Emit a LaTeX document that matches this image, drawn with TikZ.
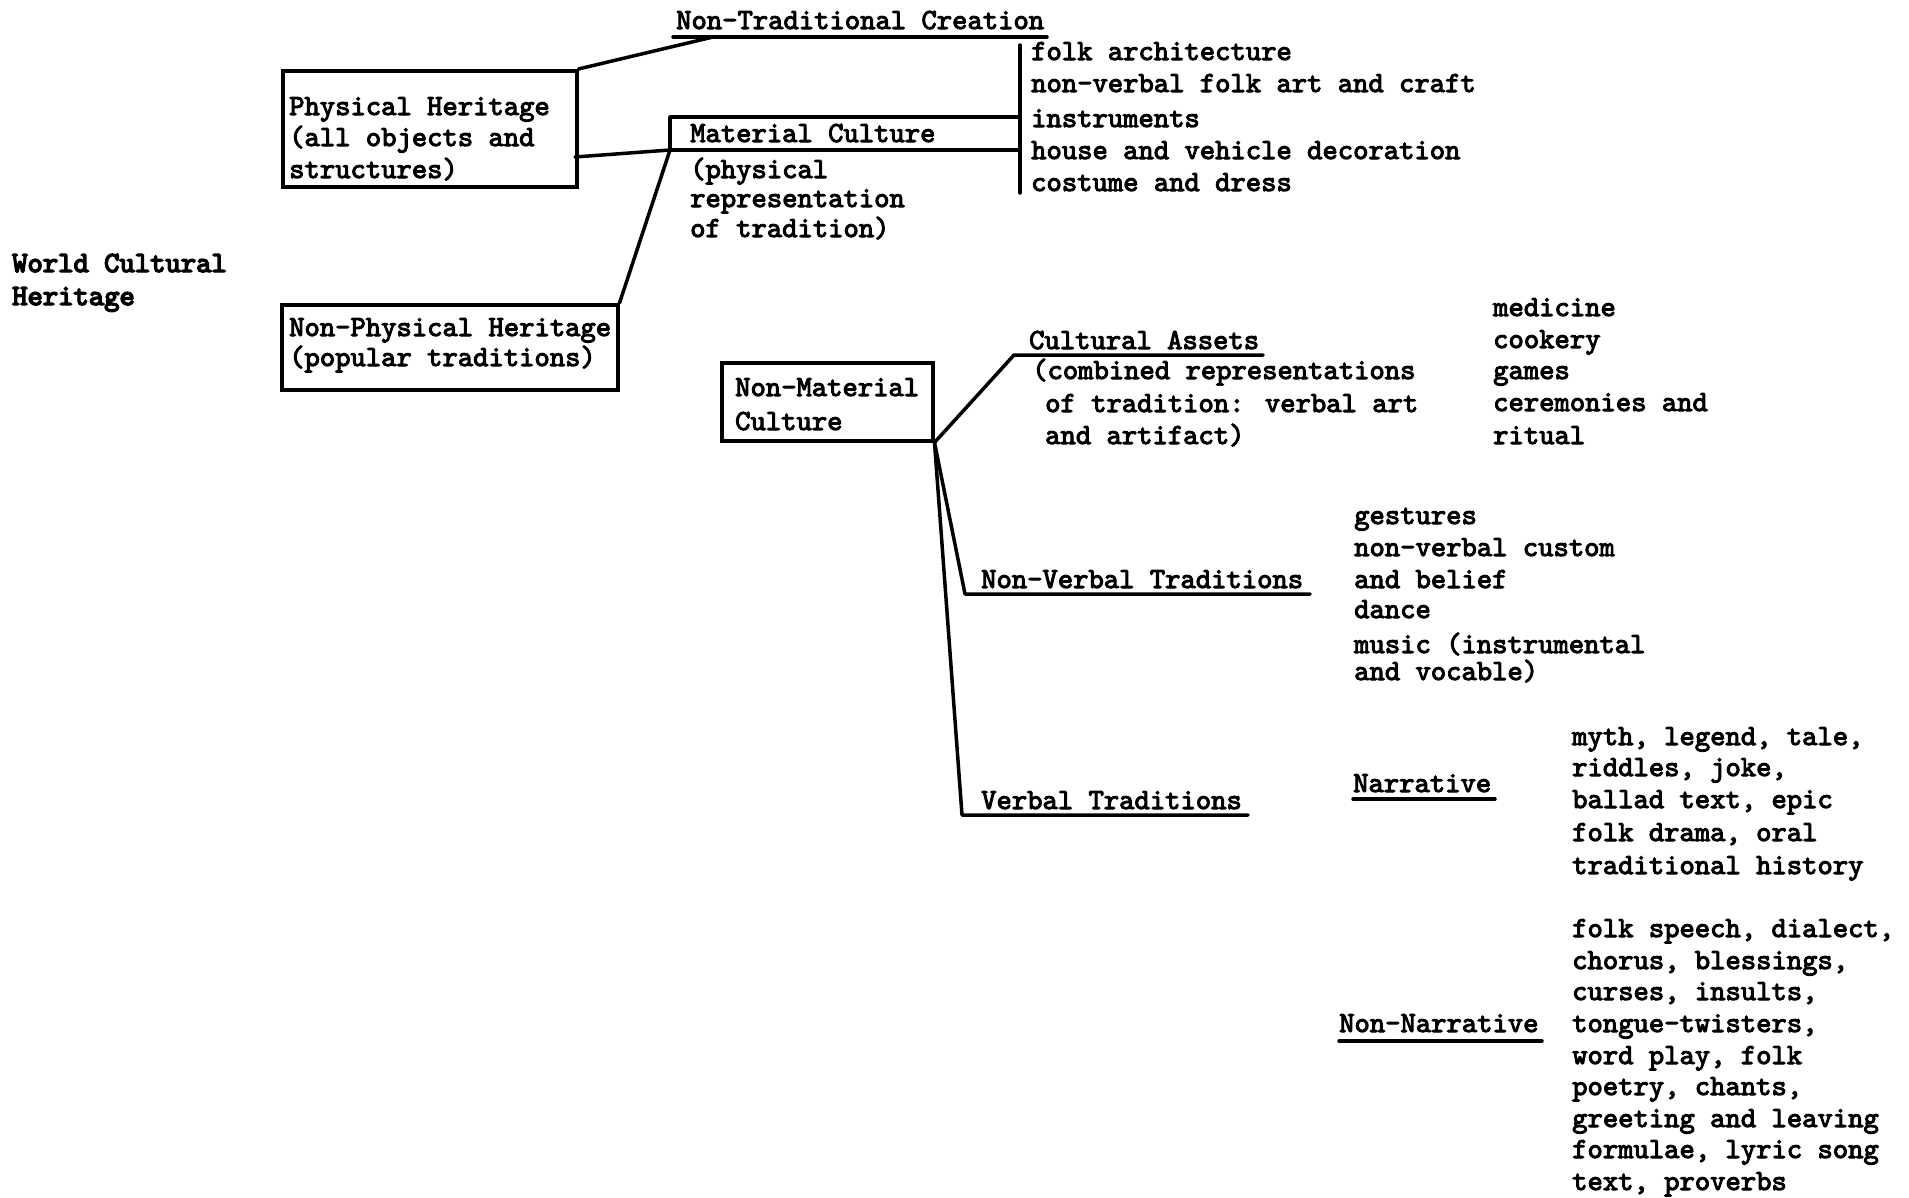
\documentclass[tikz,border=0pt]{standalone}
\usepackage{fontspec}
\newfontfamily\tw{lmmono10-regular.otf}[FakeBold=3.4]
\newfontfamily\twb{lmmono10-regular.otf}[FakeBold=5]
\begin{document}
\begin{tikzpicture}[x=1pt,y=-1pt,
  txt/.style={font=\tw\fontsize{29.2}{34}\selectfont, anchor=base west, inner sep=0pt},
  ttl/.style={txt, font=\twb\fontsize{29.2}{34}\selectfont},
  box/.style={draw, line width=3.5pt, inner sep=0pt, anchor=north west},
  ln/.style={line width=3.5pt, line join=round, line cap=round}]
\fill[white] (0,0) rectangle (1909,1197);
\useasboundingbox (0,0) rectangle (1909,1197);

% boxes
\node[box, minimum width=294pt, minimum height=116pt] (ph) at (281,69) {};
\node[box, minimum width=336pt, minimum height=85pt] (np) at (280,303) {};
\node[box, minimum width=211pt, minimum height=78pt] (nm) at (720,361) {};

% left-hand title
\node[ttl] (wch1) at (12,272) {World Cultural};
\node[ttl] (wch2) at (12,305) {Heritage};

% box texts
\node[txt] (ph1) at (289,115) {Physical Heritage};
\node[txt] (ph2) at (289,146) {(all objects and};
\node[txt] (ph3) at (289,178) {structures)};
\node[txt] (np1) at (289,336) {Non-Physical Heritage};
\node[txt] (np2) at (289,366) {(popular traditions)};
\node[txt] (nm1) at (735,396) {Non-Material};
\node[txt] (nm2) at (735,430) {Culture};

% upper branch
\node[txt] (ntc) at (676,29) {Non-Traditional Creation};
\node[txt] (mc) at (690,142) {Material Culture};
\node[txt] (mc1) at (690,178) {(physical};
\node[txt] (mc2) at (690,207) {representation};
\node[txt] (mc3) at (690,237) {of tradition)};
\foreach \y/\t [count=\i] in {60/folk architecture, 92/non-verbal folk art and craft, 127/instruments, 159/house and vehicle decoration, 191/costume and dress}
  \node[txt] (fa\i) at (1031,\y) {\t};

% cultural assets
\node[txt] (ca) at (1029,349) {Cultural Assets};
\node[txt] (ca1) at (1032,379) {(combined representations};
\node[txt] (ca2) at (1045,412) {of tradition: verbal art};
\node[txt] (ca3) at (1045,444) {and artifact)};
\foreach \y/\t [count=\i] in {316/medicine, 348/cookery, 379/games, 411/ceremonies and, 444/ritual}
  \node[txt] (cl\i) at (1493,\y) {\t};

% non-verbal
\node[txt] (nv) at (981,588) {Non-Verbal Traditions};
\foreach \y/\t [count=\i] in {524/gestures, 556/non-verbal custom, 588/and belief, 618/dance, 653/music (instrumental, 680/and vocable)}
  \node[txt] (nl\i) at (1354,\y) {\t};

% verbal
\node[txt] (vt) at (981,809) {Verbal Traditions};
\node[txt] (na) at (1353,792) {Narrative};
\foreach \y/\t [count=\i] in {745/{myth, legend, tale,}, 776/{riddles, joke,}, 808/{ballad text, epic}, 841/{folk drama, oral}, 874/traditional history}
  \node[txt] (nal\i) at (1572,\y) {\t};
\node[txt] (nn) at (1339,1032) {Non-Narrative};
\foreach \y/\t [count=\i] in {937/{folk speech, dialect,}, 969/{chorus, blessings,}, 1000/{curses, insults,}, 1032/{tongue-twisters,}, 1064/{word play, folk}, 1095/{poetry, chants,}, 1127/greeting and leaving, 1158/{formulae, lyric song}, 1190/{text, proverbs}}
  \node[txt] (nnl\i) at (1572,\y) {\t};

% coordinates
\coordinate (ntL) at (673,37);
\coordinate (ntR) at (1047,37);
\coordinate (ntJ) at (713,37);
\coordinate (phR) at (575,157);
\coordinate (mcTL) at (670,117);
\coordinate (mcBL) at (670,150);
\coordinate (mcTR) at (1020,117);
\coordinate (mcBR) at (1020,150);
\coordinate (barT) at (1020,45);
\coordinate (barB) at (1020,193);
\coordinate (caL) at (1014,355);
\coordinate (caR) at (1263,355);
\coordinate (nvL) at (965,594);
\coordinate (nvR) at (1310,594);
\coordinate (vtL) at (962,815);
\coordinate (vtR) at (1248,815);
\coordinate (naL) at (1353,799);
\coordinate (naR) at (1495,799);
\coordinate (nnL) at (1339,1041);
\coordinate (nnR) at (1542,1041);

% connectors
\draw[ln] (ntL) -- (ntR);
\draw[ln] (ph.north east) -- (ntJ);
\draw[ln] (mcTR) -- (mcTL) -- (mcBL) -- (mcBR);
\draw[ln] (phR) -- (mcBL);
\draw[ln] (np.north east) -- (mcBL);
\draw[ln] (barT) -- (barB);
\draw[ln] (nm.south east) -- (caL) -- (caR);
\draw[ln] (nm.south east) -- (nvL) -- (nvR);
\draw[ln] (nm.south east) -- (vtL) -- (vtR);
\draw[ln] (naL) -- (naR);
\draw[ln] (nnL) -- (nnR);
\end{tikzpicture}
\end{document}
